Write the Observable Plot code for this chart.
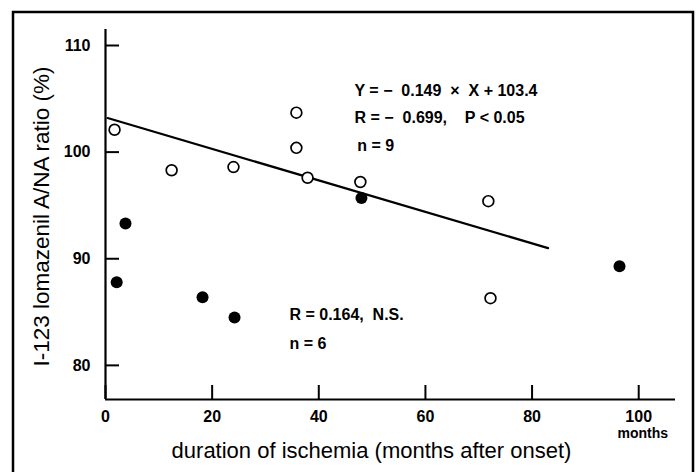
<!DOCTYPE html>
<html>
<head>
<meta charset="utf-8">
<script src="https://cdn.jsdelivr.net/npm/d3@7"></script>
<script src="https://cdn.jsdelivr.net/npm/@observablehq/plot@0.6"></script>
<style>
  html, body { margin: 0; padding: 0; background: #fff; }
  #chart svg { display: block; }
</style>
</head>
<body>
<div id="chart"></div>
<script>
// Open circles (significant group, n = 9)
const openX = [1.7, 12.4, 24, 35.8, 35.8, 37.9, 47.8, 71.8, 72.2];
const openY = [102.1, 98.3, 98.6, 103.7, 100.4, 97.6, 97.2, 95.4, 86.3];
// Filled circles (n = 6)
const filledX = [2.1, 3.75, 18.2, 24.2, 48, 96.4];
const filledY = [87.8, 93.3, 86.4, 84.5, 95.7, 89.3];
// Regression line endpoints
const lineX = [0.4, 83];
const lineY = [103.2, 91.0];
// Ticks
const xTicks = [0, 20, 40, 60, 80, 100];
const yTicks = [80, 90, 100, 110];
// Annotations
const annoText = [
  "Y = \u2212\u00a0\u00a00.149\u00a0\u00a0\u00d7\u00a0\u00a0X + 103.4",
  "R = \u2212\u00a0\u00a00.699,\u00a0\u00a0\u00a0\u00a0P < 0.05",
  "n = 9",
  "R = 0.164,\u00a0\u00a0N.S.",
  "n = 6"
];
const annoX = [46.7, 46.7, 47.2, 34.5, 34.5];
const annoY = [105.7, 103.2, 100.6, 84.7, 82.0];

const xTitle = "duration of ischemia (months after onset)";
const yTitle = "I-123 lomazenil A/NA ratio (%)";
const unitLabel = "months";

const openData = openX.map((x, i) => ({x, y: openY[i]}));
const filledData = filledX.map((x, i) => ({x, y: filledY[i]}));
const lineData = lineX.map((x, i) => ({x, y: lineY[i]}));
const annoData = annoText.map((t, i) => ({t, x: annoX[i], y: annoY[i]}));

const font = "'Liberation Sans', Arial, Helvetica, sans-serif";

const chart = Plot.plot({
  width: 697,
  height: 472,
  marginLeft: 105,
  marginRight: 22,
  marginTop: 29,
  marginBottom: 73,
  style: {fontFamily: font, background: "#fff", color: "#000"},
  x: {domain: [0, 106.9]},
  y: {domain: [76.8, 111.5]},
  marks: [
    Plot.axisX(xTicks, {tickSize: -14, tickPadding: 25, fontSize: 16, fontWeight: "bold", strokeWidth: 2, label: null, tickFormat: d => d}),
    Plot.axisY(yTicks, {tickSize: -14, tickPadding: 29, fontSize: 16, fontWeight: "bold", strokeWidth: 2, label: null, tickFormat: d => d}),
    Plot.ruleY([76.8], {strokeWidth: 2.2}),
    Plot.ruleX([0], {strokeWidth: 2.2}),
    Plot.line(lineData, {x: "x", y: "y", strokeWidth: 2.2, stroke: "#000"}),
    Plot.dot(openData, {x: "x", y: "y", r: 5.4, stroke: "#000", strokeWidth: 1.7, fill: "#fff"}),
    Plot.dot(filledData, {x: "x", y: "y", r: 6, fill: "#000", stroke: "none"}),
    Plot.text(annoData, {x: "x", y: "y", text: "t", textAnchor: "start", fontSize: 16, fontWeight: "bold", fill: "#000"}),
    Plot.text([unitLabel], {x: 100, frameAnchor: "bottom", dy: 38, dx: 4, fontSize: 14, fontWeight: "bold", fill: "#000"}),
    Plot.text([xTitle], {frameAnchor: "bottom", dx: -19, dy: 58, fontSize: 22, fill: "#000"}),
    Plot.text([yTitle], {frameAnchor: "left", textAnchor: "middle", dx: -64, dy: 2, rotate: -90, fontSize: 22.5, fill: "#000"})
  ]
});

const svg = d3.select(chart);
svg.append("rect")
  .attr("x", 13).attr("y", 12)
  .attr("width", 680).attr("height", 480)
  .attr("fill", "none").attr("stroke", "#000").attr("stroke-width", 2.5);

document.getElementById("chart").appendChild(chart);
</script>
</body>
</html>
